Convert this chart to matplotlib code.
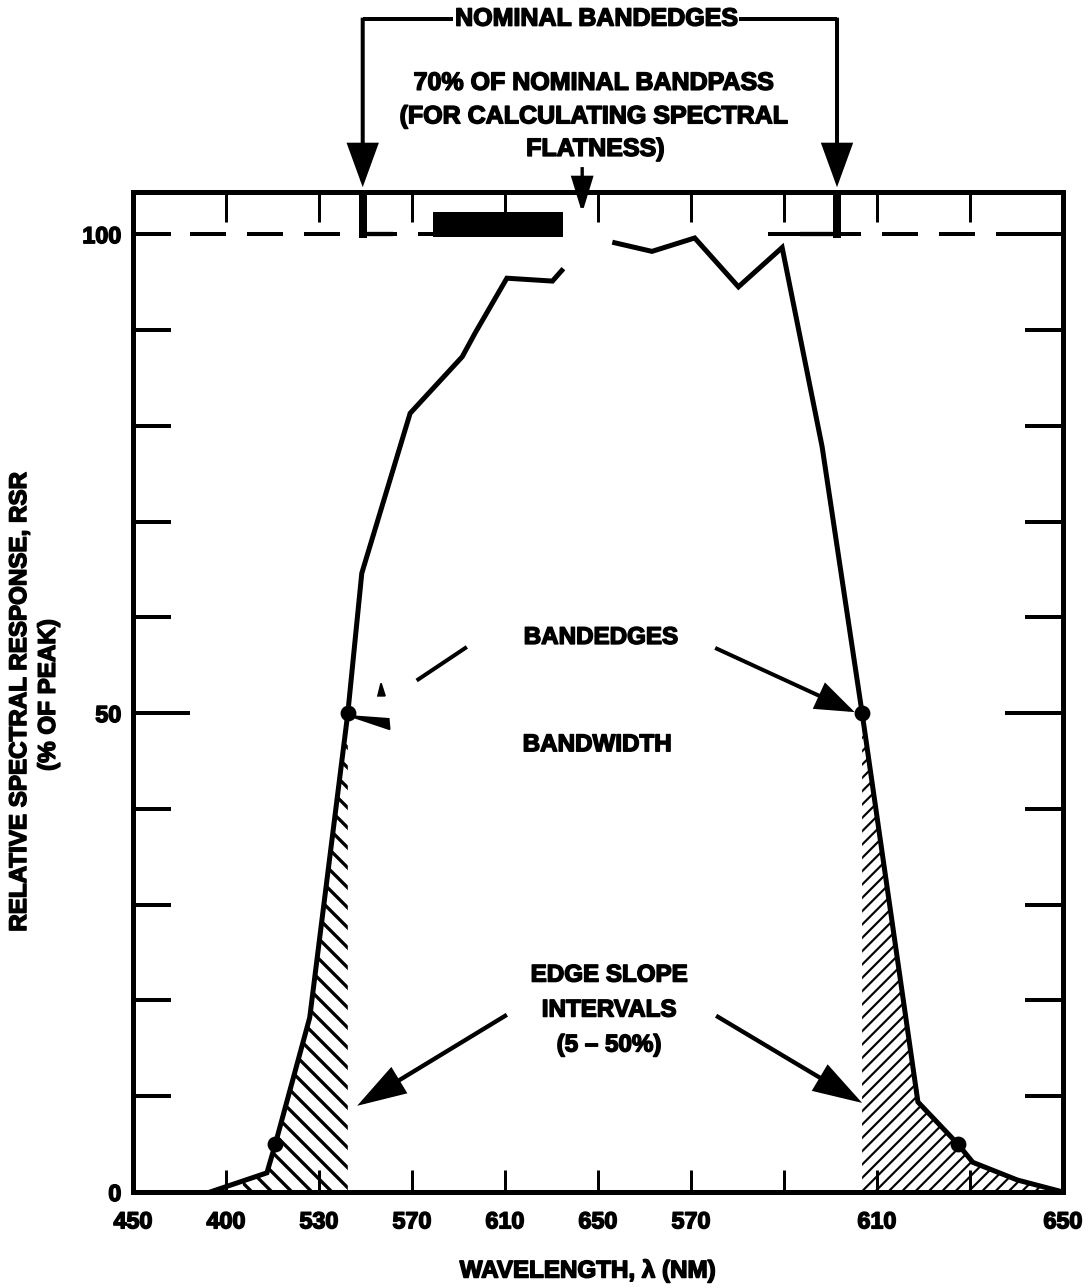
import numpy as np
import matplotlib
matplotlib.use("Agg")
import matplotlib.pyplot as plt
import matplotlib.patheffects as pe
from matplotlib.patches import FancyArrowPatch, Polygon, Rectangle

plt.rcParams['font.family'] = ['Liberation Sans', 'DejaVu Sans']
plt.rcParams['font.weight'] = 'bold'
plt.rcParams['lines.scale_dashes'] = False

# ---------------- data ----------------
tick_pos = list(range(11))
tick_labels = ['450', '400', '530', '570', '610', '650', '570', '', '610', '', '650']
y_ticks = list(range(0, 101, 10))
y_labels = ['0', '', '', '', '', '50', '', '', '', '', '100']

# response curve (two visible pieces; the scan loses the middle)
curve1_x = [0.83, 1.44, 1.53, 1.90, 2.31, 2.46, 2.98, 3.54, 3.68, 4.02, 4.51, 4.61]
curve1_y = [0.0, 2.0, 5.0, 18.2, 50.0, 64.6, 81.3, 87.2, 89.7, 95.4, 95.1, 96.2]
curve2_x = [5.18, 5.58, 6.04, 6.51, 6.98, 7.41, 7.84, 8.44, 8.87, 9.03, 9.51, 10.0]
curve2_y = [99.1, 98.2, 99.6, 94.5, 98.6, 77.8, 50.0, 9.4, 5.0, 3.1, 1.25, 0.0]

edge_x = [2.31, 7.84]      # 50 % bandedges
edge_y = [50, 50]
slope_x = [1.53, 8.87]     # 5 % points
slope_y = [5, 5]

nominal_edges = [2.47, 7.57]
flat_band = [3.23, 4.62]   # 70 % of nominal bandpass
hatch_left = [1.18, 2.31]
hatch_right = [7.84, 9.75]
dash_pieces = [(0.0, 4.62), (6.83, 10.0)]

DPI = 120
fig = plt.figure(figsize=(1090 / DPI, 1288 / DPI), dpi=DPI)
ax = fig.add_axes([133 / 1090, 96 / 1288, 930 / 1090, 1000 / 1288])
ax.set_xlim(0, 10)
ax.set_ylim(0, 104.4)

thick = [pe.withStroke(linewidth=0.9, foreground='k')]

for s in ax.spines.values():
    s.set_linewidth(3.0)

# ticks
ax.set_xticks(tick_pos)
ax.set_xticklabels(tick_labels)
ax.tick_params(axis='x', direction='in', top=True, bottom=True, length=13,
               width=1.8, pad=11, labelsize=14)
for t in ax.xaxis.get_major_ticks():
    t.tick2line.set_markersize(18)
ax.set_yticks(y_ticks)
ax.set_yticklabels(y_labels)
ax.tick_params(axis='y', direction='in', left=True, right=True, length=23,
               width=2.4, pad=7, labelsize=14)
yt = ax.yaxis.get_major_ticks()
yt[5].tick1line.set_markersize(34)
yt[5].tick2line.set_markersize(35)
for lab in ax.get_xticklabels() + ax.get_yticklabels():
    lab.set_path_effects(thick)

# 100 % dashed line
for a, b in dash_pieces:
    ax.plot([a, b], [100, 100], color='k', lw=2.4, linestyle=(0, (21.6, 12.6)),
            solid_capstyle='butt', dash_capstyle='butt')

# nominal bandedge brackets
ax.plot([nominal_edges[0]] * 2, [99.6, 104.4], color='k', lw=4.8, solid_capstyle='butt')
ax.plot([nominal_edges[0], nominal_edges[0] + 0.33], [100, 100], color='k', lw=2.6,
        solid_capstyle='butt')
ax.plot([nominal_edges[1]] * 2, [99.6, 104.4], color='k', lw=4.8, solid_capstyle='butt')
ax.plot([nominal_edges[1] - 0.40, nominal_edges[1]], [100, 100], color='k', lw=2.6,
        solid_capstyle='butt')

# flatness band block
ax.add_patch(Rectangle((flat_band[0], 99.7), flat_band[1] - flat_band[0], 2.6,
                       facecolor='k', edgecolor='none'))

# hatched edge slope intervals
xl = np.linspace(hatch_left[0], hatch_left[1], 200)
yl = np.interp(xl, curve1_x, curve1_y)
with plt.rc_context({'hatch.linewidth': 2.0}):
    h1 = ax.fill_between(xl, 0, yl, facecolor='none', edgecolor='k', hatch='\\\\',
                         linewidth=0)
xr = np.linspace(hatch_right[0], hatch_right[1], 200)
yr = np.interp(xr, curve2_x, curve2_y)
with plt.rc_context({'hatch.linewidth': 1.3}):
    h2 = ax.fill_between(xr, 0, yr, facecolor='none', edgecolor='k', hatch='///',
                         linewidth=0)

# curve
ax.plot(curve1_x, curve1_y, color='k', lw=3.0, solid_joinstyle='miter')
ax.plot(curve2_x, curve2_y, color='k', lw=3.0, solid_joinstyle='miter')
ax.plot(edge_x, edge_y, 'o', color='k', ms=8.5, ls='none')
ax.plot(slope_x, slope_y, 'o', color='k', ms=8.5, ls='none')


def arrow(tail, tip, lw=2.4, hl=18, hw=7, clip=True):
    p = FancyArrowPatch(tail, tip, arrowstyle=f'-|>,head_length={hl},head_width={hw}',
                        mutation_scale=1, color='k', lw=lw, shrinkA=0, shrinkB=0,
                        joinstyle='miter', capstyle='butt')
    p.set_clip_on(clip)
    ax.add_patch(p)
    return p


def label(x, y, s, size=14.5, **kw):
    t = ax.text(x, y, s, ha='center', va='center', fontsize=size, fontweight='bold',
                clip_on=False, **kw)
    t.set_path_effects(thick)
    return t


# top annotation: nominal bandedges
ax.plot([nominal_edges[0], 3.44], [122.5, 122.5], color='k', lw=2.4, clip_on=False,
        solid_capstyle='butt')
ax.plot([6.52, nominal_edges[1]], [122.5, 122.5], color='k', lw=2.4, clip_on=False,
        solid_capstyle='butt')
arrow((nominal_edges[0], 122.6), (nominal_edges[0], 104.9), lw=2.4, hl=22, hw=8, clip=False)
arrow((nominal_edges[1], 122.6), (nominal_edges[1], 104.9), lw=2.4, hl=22, hw=8, clip=False)
label(4.98, 122.5, 'NOMINAL BANDEDGES', size=15)

label(4.95, 115.8, '70% OF NOMINAL BANDPASS', size=15)
label(4.95, 112.3, '(FOR CALCULATING SPECTRAL', size=15)
label(4.97, 108.9, 'FLATNESS)', size=15)
arrow((4.83, 107.0), (4.83, 102.2), lw=2.0, hl=18, hw=5.5, clip=False)

# bandedges annotation
label(5.03, 57.9, 'BANDEDGES')
arrow((6.26, 56.8), (7.76, 50.1), lw=2.4, hl=19, hw=7)
ax.plot([3.59, 3.05], [56.9, 53.4], color='k', lw=2.4, solid_capstyle='butt')
ax.add_patch(Polygon([(2.33, 49.7), (2.75, 49.4), (2.76, 48.3)], closed=True,
                     facecolor='k', edgecolor='k', lw=1))
ax.add_patch(Polygon([(2.667, 53.1), (2.71, 51.8), (2.634, 51.8)], closed=True,
                     facecolor='k', edgecolor='k', lw=1))
label(4.99, 46.7, 'BANDWIDTH')

# edge slope annotation
label(5.12, 22.65, 'EDGE SLOPE')
label(5.12, 19.0, 'INTERVALS')
label(5.12, 15.35, '(5 \u2013 50%)')
arrow((4.02, 18.5), (2.41, 9.0), lw=2.6, hl=24, hw=7.5)
arrow((6.27, 18.4), (7.84, 9.3), lw=2.6, hl=24, hw=7.5)

# axis labels
t = ax.text(0.489, -0.079, 'WAVELENGTH, \u03bb (NM)', transform=ax.transAxes,
            ha='center', va='center', fontsize=14.5, fontweight='bold')
t.set_path_effects(thick)
t = ax.text(-0.122, 0.49, 'RELATIVE SPECTRAL RESPONSE, RSR', transform=ax.transAxes,
            rotation=90, ha='center', va='center', fontsize=14.5, fontweight='bold')
t.set_path_effects(thick)
t = ax.text(-0.091, 0.497, '(% OF PEAK)', transform=ax.transAxes,
            rotation=90, ha='center', va='center', fontsize=14.5, fontweight='bold')
t.set_path_effects(thick)

fig.savefig('out.png', dpi=DPI)
